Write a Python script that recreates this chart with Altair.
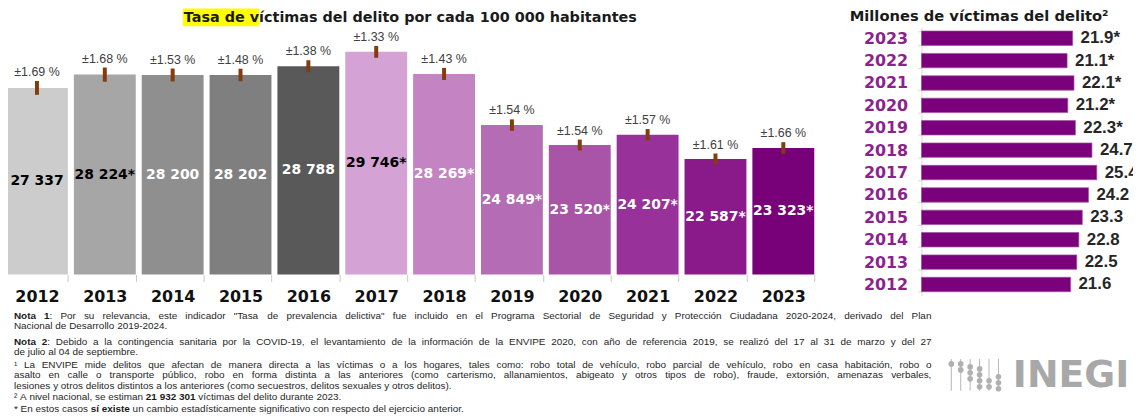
import altair as alt
import pandas as pd

# ---------------- data ----------------
years = [str(y) for y in range(2012, 2024)]
tasa = [27337, 28224, 28200, 28202, 28788, 29746, 28269, 24849, 23520, 24207, 22587, 23323]
tasa_sig = [False, True, False, False, False, True, True, True, True, True, True, True]
error_pct = [1.69, 1.68, 1.53, 1.48, 1.38, 1.33, 1.43, 1.54, 1.54, 1.57, 1.61, 1.66]
bar_colors = ["#cccccc", "#a6a6a6", "#8f8f8f", "#7f7f7f", "#595959", "#d4a2d4",
              "#c484c4", "#b46cb4", "#a855a8", "#98329a", "#8a1a8a", "#780078"]
value_label_colors = ["#000000", "#000000", "#ffffff", "#ffffff", "#ffffff", "#000000",
                      "#ffffff", "#ffffff", "#ffffff", "#ffffff", "#ffffff", "#ffffff"]
victimas = [21.6, 22.5, 22.8, 23.3, 24.2, 25.4, 24.7, 22.3, 21.2, 22.1, 21.1, 21.9]
victimas_sig = [False] * 7 + [True] * 5

title_left = "Tasa de víctimas del delito por cada 100 000 habitantes"
title_right = "Millones de víctimas del delito²"

notes = [
    ('**Nota 1**: Por su relevancia, este indicador "Tasa de prevalencia delictiva" fue incluido en el Programa Sectorial de Seguridad y Protección Ciudadana 2020-2024, derivado del Plan', True),
    ("Nacional de Desarrollo 2019-2024.", False),
    ("**Nota 2**: Debido a la contingencia sanitaria por la COVID-19, el levantamiento de la información de la ENVIPE 2020, con año de referencia 2019, se realizó del 17 al 31 de marzo y del 27", True),
    ("de julio al 04 de septiembre.", False),
    ("¹ La ENVIPE mide delitos que afectan de manera directa a las víctimas o a los hogares, tales como: robo total de vehículo, robo parcial de vehículo, robo en casa habitación, robo o", True),
    ("asalto en calle o transporte público, robo en forma distinta a las anteriores (como carterismo, allanamientos, abigeato y otros tipos de robo), fraude, extorsión, amenazas verbales,", True),
    ("lesiones y otros delitos distintos a los anteriores (como secuestros, delitos sexuales y otros delitos).", False),
    ("² A nivel nacional, se estiman **21 932 301** víctimas del delito durante 2023.", False),
    ("* En estos casos **sí existe** un cambio estadísticamente significativo con respecto del ejercicio anterior.", False),
]
note_y = [308.5, 318.5, 335, 345, 358, 368.5, 379, 390, 402]

# ---------------- text metrics (Arial / Liberation Sans) ----------------
REG = {' ': 278, '!': 278, '"': 355, '%': 889, "'": 191, '(': 333, ')': 333, '*': 389, '+': 584,
       ',': 278, '-': 333, '.': 278, '/': 278, ':': 278, ';': 278, '?': 556,
       '¹': 333, '²': 333, '±': 584}
BLD = {' ': 278, '!': 333, '"': 474, '%': 889, "'": 238, '(': 333, ')': 333, '*': 389, '+': 584,
       ',': 278, '-': 333, '.': 278, '/': 278, ':': 333, ';': 333, '?': 611,
       '¹': 333, '²': 333, '±': 584}
for d in "0123456789":
    REG[d] = 556
    BLD[d] = 556
up_r = [667, 667, 722, 722, 667, 611, 778, 722, 278, 500, 667, 556, 833, 722, 778, 667, 778, 722, 667, 611, 722, 667, 944, 667, 667, 611]
up_b = [722, 722, 722, 722, 667, 611, 778, 722, 278, 556, 722, 611, 833, 722, 778, 667, 778, 722, 667, 611, 722, 667, 944, 667, 667, 611]
lo_r = [556, 556, 500, 556, 556, 278, 556, 556, 222, 222, 500, 222, 833, 556, 556, 556, 556, 333, 500, 278, 556, 500, 722, 500, 500, 500]
lo_b = [556, 611, 556, 611, 556, 333, 611, 611, 278, 278, 556, 278, 889, 611, 611, 611, 611, 389, 556, 333, 611, 556, 778, 556, 556, 500]
for i in range(26):
    REG[chr(65 + i)] = up_r[i]
    BLD[chr(65 + i)] = up_b[i]
    REG[chr(97 + i)] = lo_r[i]
    BLD[chr(97 + i)] = lo_b[i]
for acc, base in zip("áéíóúñ", "aeioun"):
    REG[acc] = REG[base] if acc != "í" else 278
    BLD[acc] = BLD[base] if acc != "í" else 278

NOTE_FS = 10
NOTE_LEFT = 6
NOTE_RIGHT = 930


def text_w(s, bold):
    table = BLD if bold else REG
    return sum(table.get(c, 556) for c in s) * NOTE_FS / 1000.0


def layout(spec, y, justify):
    runs = []
    for k, part in enumerate(spec.split("**")):
        if part:
            runs.append((part, k % 2 == 1))
    words = [[]]
    for txt, b in runs:
        for j, s in enumerate(txt.split(" ")):
            if j > 0:
                words.append([])
            if s:
                words[-1].append((s, b))
    words = [w for w in words if w]
    widths = [sum(text_w(s, b) for s, b in w) for w in words]
    if justify and len(words) > 1:
        gap = (NOTE_RIGHT - NOTE_LEFT - sum(widths)) / (len(words) - 1)
    else:
        gap = REG[' '] * NOTE_FS / 1000.0
    rows = []
    cx = NOTE_LEFT
    for w, ww in zip(words, widths):
        for s, b in w:
            rows.append({"x": cx, "y": y, "t": s, "bold": b})
            cx += text_w(s, b)
        cx += gap
    return rows


note_rows = []
for (spec, just), yy in zip(notes, note_y):
    note_rows += layout(spec, yy, just)
notes_df = pd.DataFrame(note_rows)

# ---------------- left chart ----------------
BASE = 14860
left_df = pd.DataFrame({
    "year": years,
    "tasa": tasa,
    "lo": [v * (1 - p / 100) for v, p in zip(tasa, error_pct)],
    "hi": [v * (1 + p / 100) for v, p in zip(tasa, error_pct)],
    "label": [f"{v:,}".replace(",", " ") + ("*" if s else "") for v, s in zip(tasa, tasa_sig)],
    "errlabel": [f"±{p:.2f} %" for p in error_pct],
    "lcolor": value_label_colors,
})

xL = alt.X("year:N", sort=years,
           scale=alt.Scale(range=[-5, 815], paddingInner=0.088, paddingOuter=0.044),
           axis=alt.Axis(title=None, orient="bottom", offset=-144, domain=False,
                         tickBand="extent", tickColor="#c8c8c8", tickSize=7,
                         labelFont="DejaVu Sans", labelFontWeight="bold", labelFontSize=16,
                         labelColor="#111111", labelPadding=7, labelAngle=0))
yScaleL = alt.Scale(domain=[BASE, 32580], range=[267, 0], nice=False, zero=False)

base_left = alt.Chart(left_df)
bars = base_left.mark_bar().encode(
    x=xL,
    y=alt.Y("tasa:Q", scale=yScaleL, axis=None),
    y2=alt.datum(BASE),
    color=alt.Color("year:N", scale=alt.Scale(domain=years, range=bar_colors), legend=None),
)
err = base_left.mark_rule(color="#843C0C", strokeWidth=4).encode(
    x=xL, y=alt.Y("lo:Q", scale=yScaleL, axis=None), y2="hi:Q")
errlab = base_left.mark_text(font="Liberation Sans", fontSize=12.5, color="#404040",
                             baseline="bottom", dy=-2).encode(
    x=xL, y=alt.Y("hi:Q", scale=yScaleL, axis=None), text="errlabel:N")
vallab = base_left.transform_calculate(mid=f"(datum.tasa + {BASE}) / 2").mark_text(
    font="DejaVu Sans", fontWeight="bold", fontSize=14, baseline="middle").encode(
    x=xL, y=alt.Y("mid:Q", scale=yScaleL, axis=None), text="label:N",
    color=alt.Color("lcolor:N", scale=None))
left = alt.layer(bars, err, errlab, vallab)

# ---------------- right chart ----------------
right_df = pd.DataFrame({
    "year": years,
    "v": victimas,
    "vlabel": [f"{v:.1f}" + ("*" if s else "") for v, s in zip(victimas, victimas_sig)],
})
yR = alt.Y("year:N", sort=years[::-1],
           scale=alt.Scale(range=[17.7, 288.3], paddingInner=0.357, paddingOuter=0.1785),
           axis=alt.Axis(title=None, orient="left", offset=-920, domainColor="#d9d9d9",
                         tickBand="extent", tickColor="#d9d9d9", tickSize=4,
                         labelFont="DejaVu Sans", labelFontWeight="bold", labelFontSize=16,
                         labelColor="#8E1F8E", labelPadding=10))
xR = alt.X("v:Q", scale=alt.Scale(domain=[0, 30.65], range=[920, 1133], nice=False), axis=None)
rbars = alt.Chart(right_df).mark_bar(color="#7B007B", stroke="#a050a0", strokeWidth=0.7).encode(x=xR, y=yR)
rlab = alt.Chart(right_df).mark_text(align="left", dx=8, font="Liberation Sans", fontWeight="bold",
                                     fontSize=17, color="#262626", baseline="middle").encode(
    x=xR, y=yR, text="vlabel:N")
right = alt.layer(rbars, rlab)

# ---------------- titles ----------------
one = pd.DataFrame({"k": [0]})
highlight = alt.Chart(one).mark_rect(color="#FFFF00").encode(
    x=alt.value(176), x2=alt.value(253), y=alt.value(-1), y2=alt.value(17))
tl = alt.Chart(one).mark_text(align="left", baseline="middle", font="DejaVu Sans", fontWeight="bold",
                              fontSize=14.5, color="#1a1a1a").encode(
    x=alt.value(177), y=alt.value(9), text=alt.value(title_left))
tr = alt.Chart(one).mark_text(align="center", baseline="middle", font="DejaVu Sans", fontWeight="bold",
                              fontSize=14.8, color="#1a1a1a").encode(
    x=alt.value(978), y=alt.value(7.5), text=alt.value(title_right))

# ---------------- notes ----------------
nreg = alt.Chart(notes_df).transform_filter("!datum.bold").mark_text(
    align="left", baseline="middle", font="Liberation Sans", fontSize=NOTE_FS, color="#262626").encode(
    x=alt.X("x:Q", scale=None), y=alt.Y("y:Q", scale=None), text="t:N")
nbold = alt.Chart(notes_df).transform_filter("datum.bold").mark_text(
    align="left", baseline="middle", font="Liberation Sans", fontWeight="bold", fontSize=NOTE_FS,
    color="#1a1a1a").encode(
    x=alt.X("x:Q", scale=None), y=alt.Y("y:Q", scale=None), text="t:N")

# ---------------- logo ----------------
logo_text = alt.Chart(one).mark_text(align="left", baseline="middle", font="DejaVu Sans",
                                     fontWeight="bold", fontSize=38, color="#a8a8a8").encode(
    x=alt.value(1012), y=alt.value(369), text=alt.value("INEGI"))
abacus_cols = pd.DataFrame({"cx": [950, 959.5, 969, 978.5, 988, 997.5]})
abacus_lines = alt.Chart(abacus_cols).mark_rule(color="#b5b5b5", strokeWidth=1).encode(
    x=alt.X("cx:Q", scale=None), y=alt.value(352), y2=alt.value(384))
bead_x = [950, 959.5, 959.5, 969, 969, 969, 978.5, 978.5, 978.5, 978.5, 988, 988, 997.5, 997.5, 997.5]
bead_y = [357, 357, 363, 360, 366, 372, 362, 368, 374, 380, 374, 380, 370, 376, 382]
beads = alt.Chart(pd.DataFrame({"bx": bead_x, "by": bead_y})).mark_point(
    filled=True, shape="circle", size=32, color="#b0b0b0", opacity=1).encode(
    x=alt.X("bx:Q", scale=None), y=alt.Y("by:Q", scale=None))

chart = alt.layer(
    highlight, tl, tr, left, right, nreg, nbold, abacus_lines, beads, logo_text
).resolve_scale(x="independent", y="independent").properties(
    width=1133, height=411, padding=0,
    autosize=alt.AutoSizeParams(type="none"),
).configure_view(stroke=None)

chart.save("out.html", embed_options={"renderer": "svg", "actions": False})
